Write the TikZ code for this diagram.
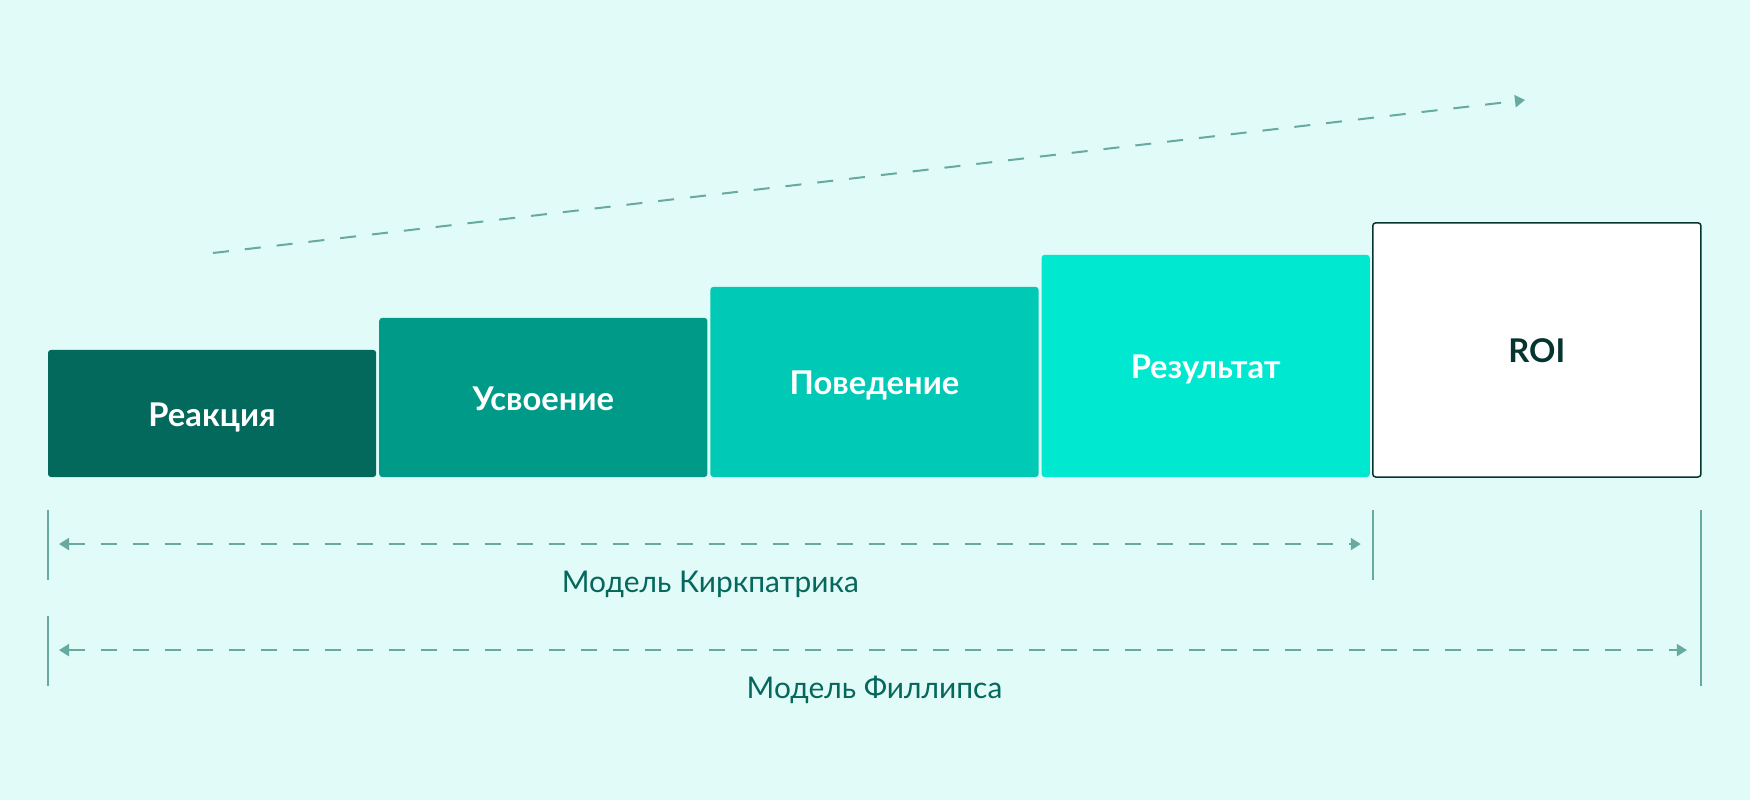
\documentclass[tikz,border=0pt]{standalone}
\usepackage{fontspec}
\setmainfont{Lato}
\usetikzlibrary{
        arrows.meta,
        calc,
        positioning
    }
\definecolor{bgmint}{HTML}{E1FBF8}
\definecolor{lvla}{HTML}{02695C}
\definecolor{lvlb}{HTML}{009A89}
\definecolor{lvlc}{HTML}{00C9B6}
\definecolor{lvld}{HTML}{00E8D0}
\definecolor{roiline}{HTML}{06352F}
\definecolor{guidecol}{HTML}{66AAA0}
\definecolor{captxt}{HTML}{06685C}
\tikzset{>={Triangle[length=0.1cm,width=0.12cm]},node distance=0.03cm}
\tikzset{level/.style={rectangle,rounded corners=0.03cm,minimum width=3.28cm,
        inner sep=0pt,outer sep=0pt,text=white,text height=0.72em,text depth=0pt,
        font=\bfseries\fontsize{9.3}{11}\selectfont}}
\tikzset{dimline/.style={guidecol,line width=0.02cm,dash pattern=on 0.16cm off 0.16cm}}
\tikzset{tick/.style={guidecol,line width=0.02cm}}
\tikzset{caption/.style={text=captxt,anchor=base,font=\fontsize{8.5}{10}\selectfont}}

\begin{document}
\begin{tikzpicture}[x=0.01cm,y=-0.01cm]
        \fill[bgmint] (0,0) rectangle (1750,800);
        % stages
        \node[level,fill=lvla,minimum height=1.27cm,anchor=south west] (rea) at (48,477) {Реакция};
        \node[level,fill=lvlb,minimum height=1.59cm] (usv) [right=of rea.south east,anchor=south west] {Усвоение};
        \node[level,fill=lvlc,minimum height=1.90cm] (pov) [right=of usv.south east,anchor=south west] {Поведение};
        \node[level,fill=lvld,minimum height=2.22cm] (res) [right=of pov.south east,anchor=south west] {Результат};
        \node[level,fill=white,draw=roiline,line width=0.015cm,text=roiline,minimum height=2.54cm]
                (roi) [right=of res.south east,anchor=south west] {ROI};
        % growth arrow
        \coordinate (up0) at (213,253);
        \coordinate (up1) at (1525,100);
        \draw[dimline,->] (up0) -- (up1);
        % spans
        \coordinate (kA) at ([yshift=-0.67cm]rea.south west);
        \coordinate (kB) at ([yshift=-0.67cm]roi.south west);
        \coordinate (pA) at ([yshift=-1.73cm]rea.south west);
        \coordinate (pB) at ([yshift=-1.73cm]roi.south east);
        \draw[tick] ([yshift=0.34cm]kA) -- ([yshift=-0.36cm]kA);
        \draw[tick] ([yshift=0.34cm]kB) -- ([yshift=-0.36cm]kB);
        \draw[tick] ([yshift=0.34cm]pA) -- ([yshift=-0.36cm]pA);
        \draw[tick] ([yshift=0.34cm]kA -| pB) -- ([yshift=-0.36cm]pB);
        \draw[dimline,<->] ([xshift=0.11cm]kA) -- ([xshift=-0.12cm]kB);
        \draw[dimline,<->] ([xshift=0.11cm]pA) -- ([xshift=-0.14cm]pB);
        \node[caption] (kirk) at ($(kA)!0.5!(kB)+(0,48)$) {Модель Киркпатрика};
        \node[caption] (phil) at ($(pA)!0.5!(pB)+(0,48)$) {Модель Филлипса};
\end{tikzpicture}
\end{document}
